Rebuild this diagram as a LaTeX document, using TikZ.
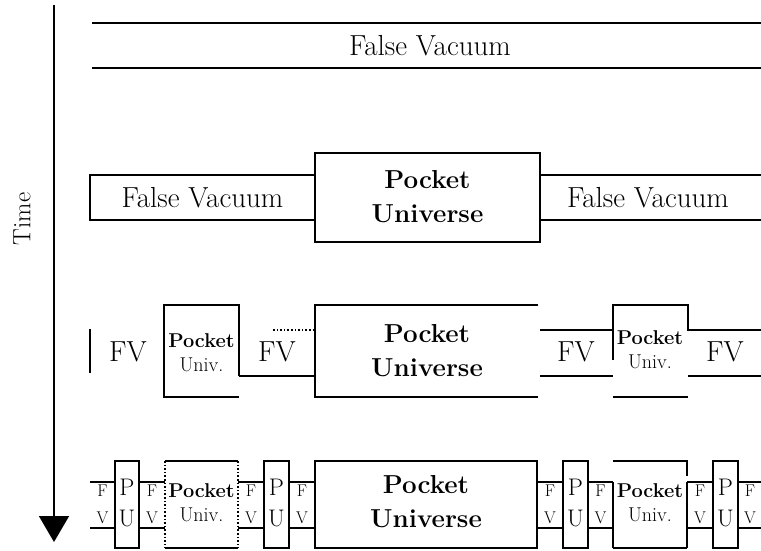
\documentclass[tikz,border=0pt]{standalone}
\usetikzlibrary{arrows.meta}
\begin{document}
\begin{tikzpicture}[x=1pt,y=-1pt, line width=1.6pt,
  lbl/.style={inner sep=0pt, align=center},
  fvbig/.style={lbl, font=\fontsize{29}{34}\selectfont},
  pubig/.style={lbl, font=\fontsize{26}{34}\selectfont\bfseries},
  pusmall/.style={lbl, font=\fontsize{20}{24}\selectfont},
  pnarrow/.style={lbl, font=\fontsize{24}{31}\selectfont},
  fvtiny/.style={lbl, font=\fontsize{17}{27}\selectfont},
  dotside/.style={dotted}]
\useasboundingbox (0,0) rectangle (761,550);

% time axis
\coordinate (t0) at (54,5);
\coordinate (t1) at (54,542);
\draw[-{Triangle[length=26pt,width=30pt]}] (t0) -- (t1);
\node[lbl, rotate=90, font=\fontsize{25}{30}\selectfont] (time) at (22,219) {Time};

% row 1
\draw (92,23) -- (761,23);
\draw (92,68) -- (761,68);
\node[fvbig] (fv1) at (430,46) {False Vacuum};

% row 2
\draw (90,175) rectangle (315,220);
\node[fvbig] (fv2a) at (202.5,197.5) {False Vacuum};
\draw (315,153) rectangle (540,242);
\node[pubig] (pu2) at (427.5,197) {Pocket\\Universe};
\draw (540,175) -- (761,175);
\draw (540,220) -- (761,220);
\node[fvbig] (fv2b) at (648,197.5) {False Vacuum};

% row 3
\draw (90,329) -- (90,373);
\node[fvbig] (fv3a) at (128,352) {FV};
\draw (239,376) -- (239,305) -- (164,305) -- (164,397) -- (239,397);
\node[pusmall] (pu3a) at (201.5,353) {\textbf{Pocket}\\Univ.};
\draw[dotside] (273,330) -- (315,330);
\draw (239,376) -- (315,376);
\node[fvbig] (fv3b) at (277,352) {FV};
\draw (538,305) -- (315,305) -- (315,397) -- (538,397);
\node[pubig] (pu3) at (427,351) {Pocket\\Universe};
\draw (540,330) -- (613,330);
\draw (540,376) -- (613,376);
\node[fvbig] (fv3c) at (576,352) {FV};
\draw (613,360) -- (613,305) -- (688,305) -- (688,330) -- (761,330);
\draw (613,397) -- (688,397);
\draw (688,376) -- (761,376);
\node[pusmall] (pu3b) at (650,350) {\textbf{Pocket}\\Univ.};
\node[fvbig] (fv3d) at (725,352) {FV};

% row 4
\foreach \a/\b in {90/115,139/165,238/264,289/315,537/563,588/613,687/713,738/761}{
  \draw (\a,482) -- (\b,482);
  \draw (\a,528) -- (\b,528);
}
\node[fvtiny] (f4a) at (102.5,504) {F\\V};
\node[fvtiny] (f4b) at (152,504) {F\\V};
\node[fvtiny] (f4c) at (251,504) {F\\V};
\node[fvtiny] (f4d) at (302,504) {F\\V};
\node[fvtiny] (f4e) at (550,504) {F\\V};
\node[fvtiny] (f4f) at (600.5,504) {F\\V};
\node[fvtiny] (f4g) at (700,504) {F\\V};
\node[fvtiny] (f4h) at (750,504) {F\\V};
\draw (115,461) rectangle (139,548);
\node[pnarrow] (p4a) at (127,503) {P\\U};
\draw (264,461) rectangle (289,548);
\node[pnarrow] (p4b) at (276.5,503) {P\\U};
\draw (563,461) rectangle (588,548);
\node[pnarrow] (p4c) at (575.5,503) {P\\U};
\draw (713,461) rectangle (738,548);
\node[pnarrow] (p4d) at (725.5,503) {P\\U};
\draw (165,461) -- (238,461);
\draw (165,548) -- (238,548);
\draw[dotside] (165,461) -- (165,548);
\draw[dotside] (238,461) -- (238,548);
\node[pusmall] (pu4a) at (201.5,503) {\textbf{Pocket}\\Univ.};
\draw (613,461) -- (687,461) -- (687,476);
\draw (613,548) -- (687,548);
\draw (613,482) -- (613,548);
\draw (687,482) -- (687,548);
\node[pusmall] (pu4b) at (650,503) {\textbf{Pocket}\\Univ.};
\draw (315,461) rectangle (537,548);
\node[pubig] (pu4) at (426,502) {Pocket\\Universe};
\end{tikzpicture}
\end{document}
